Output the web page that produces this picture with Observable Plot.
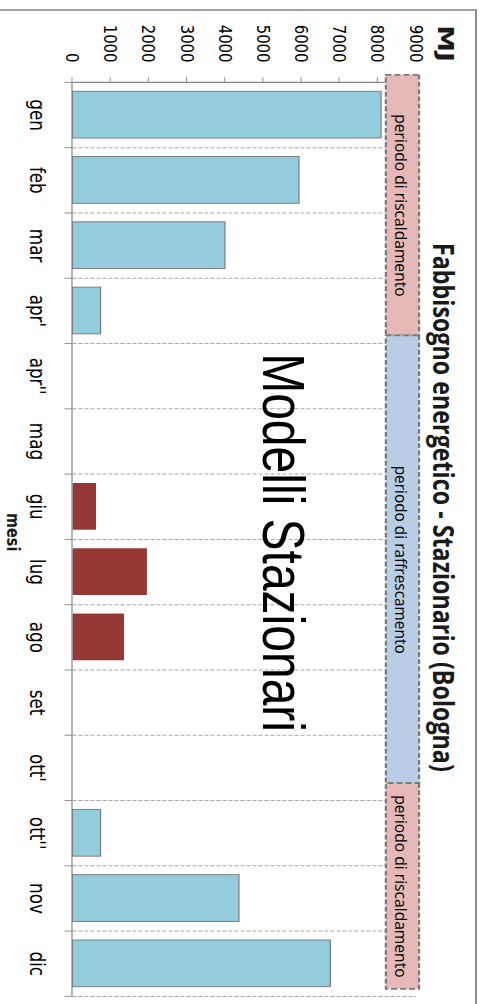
<!DOCTYPE html>
<html><head><meta charset="utf-8">
<script src="https://cdn.jsdelivr.net/npm/d3@7"></script>
<script src="https://cdn.jsdelivr.net/npm/@observablehq/plot@0.6"></script>
<style>
html,body{margin:0;padding:0;background:#fff;overflow:hidden;width:481px;height:1004px;}
#chart{position:absolute;left:0;top:0;width:481px;height:1004px;overflow:hidden;}
#chart svg{position:absolute;left:0;top:0;max-width:none !important;transform-origin:0 0;transform:translate(481px,0) rotate(90deg) scale(0.8,1);}
</style></head><body><div id="chart"></div>
<script>
const months = ["gen","feb","mar","apr'","apr''","mag","giu","lug","ago","set","ott'","ott''","nov","dic"];
const heating = [8085, 5935, 3995, 735, 0, 0, 0, 0, 0, 0, 0, 735, 4360, 6755];
const cooling = [0, 0, 0, 0, 0, 0, 615, 1950, 1350, 0, 0, 0, 0, 0];
const valueTicks = [0, 1000, 2000, 3000, 4000, 5000, 6000, 7000, 8000, 9000];
const periodLabels = ["periodo di riscaldamento", "periodo di raffrescamento", "periodo di riscaldamento"];
const periodStart = [-0.11, 3.88, 10.74];
const periodEnd = [3.88, 10.74, 13.89];
const periodColors = ["#e6b9b8", "#b9cde5", "#e6b9b8"];
const titleText = "Fabbisogno energetico - Stazionario (Bologna)";
const overlayText = "Modelli Stazionari";
const yUnit = "MJ";
const xName = "mesi";

const heatBars = months.map((m, i) => ({i, m, v: heating[i]})).filter(d => d.v > 0);
const coolBars = months.map((m, i) => ({i, m, v: cooling[i]})).filter(d => d.v > 0);
const periods = periodLabels.map((label, k) => ({label, x1: periodStart[k], x2: periodEnd[k], fill: periodColors[k]}));

const gray = "#868686";

const frameMark = () => {
  return d3.create("svg:rect")
    .attr("x", 12.5).attr("y", 5).attr("width", 4000).attr("height", 4000)
    .attr("fill", "none").attr("stroke", "#8a8a8a").attr("stroke-width", 2).node();
};

const svg = Plot.plot({
  width: 1255,
  height: 481,
  marginLeft: 102.5,
  marginRight: 10,
  marginTop: 65,
  marginBottom: 72.5,
  style: {fontFamily: "DejaVu Sans", fontSize: "18.5px", background: "white", color: "#000"},
  x: {type: "linear", domain: [0, months.length], label: null},
  y: {domain: [0, 9000], label: null},
  color: {type: "identity"},
  marks: [
    Plot.ruleX(d3.range(1, months.length + 1), {y1: 0, y2: 9000, stroke: "#a6a6a6", strokeWidth: 1.25, strokeDasharray: "4,2"}),
    Plot.rect(heatBars, {x1: d => d.i, x2: d => d.i + 1, y1: 0, y2: "v", insetLeft: 11.6, insetRight: 11.6, fill: "#93cddd", stroke: "#7a7a7a", strokeWidth: 1.2}),
    Plot.rect(coolBars, {x1: d => d.i, x2: d => d.i + 1, y1: 0, y2: "v", insetLeft: 11.6, insetRight: 11.6, fill: "#953735"}),
    Plot.ruleX([0], {y1: 0, y2: 9000, stroke: gray, strokeWidth: 1.6}),
    Plot.ruleY([0], {stroke: gray, strokeWidth: 1.2}),
    Plot.axisY({ticks: valueTicks, tickFormat: d => String(d), tickSize: 6, tickPadding: 19, stroke: gray, fontSize: 18.5, label: null}),
    Plot.axisX({ticks: d3.range(months.length + 1), tickFormat: () => "", tickSize: 8, stroke: gray, label: null}),
    Plot.axisX({ticks: d3.range(months.length).map(i => i + 0.5), tickFormat: d => months[Math.floor(d)], tickSize: 0, tickPadding: 27.4, fontSize: 21, label: null}),
    Plot.rect(periods, {x1: "x1", x2: "x2", y1: 8210, y2: 9080, fill: "fill", stroke: "#7a7a7a", strokeWidth: 2.2, strokeDasharray: "6,3"}),
    Plot.text(periods, {x: d => (d.x1 + d.x2) / 2, y: 8644, dy: 2, text: "label", fontSize: 16, fontFamily: "Open Sans", fill: "#000"}),
    Plot.text([overlayText], {x: 7, y: 5000, dx: 4, lineAnchor: "bottom", text: d => d, fontSize: 60, fontFamily: "Liberation Sans", fill: "#000"}),
    Plot.text([titleText], {frameAnchor: "top", dx: -40, dy: -17, lineAnchor: "bottom", text: d => d, fontSize: 29, fontWeight: "bold", fontFamily: "Open Sans", fill: "#1a1a1a"}),
    Plot.text([yUnit], {frameAnchor: "top-left", dx: -48.5, dy: -22, lineAnchor: "bottom", textAnchor: "middle", text: d => d, fontSize: 21, fontWeight: "bold", fill: "#1a1a1a"}),
    Plot.text([xName], {frameAnchor: "bottom", dx: -9, dy: 65, lineAnchor: "bottom", text: d => d, fontSize: 18, fontWeight: "bold", fill: "#1a1a1a"}),
    frameMark
  ]
});

const setLen = (content, len) => {
  d3.select(svg).selectAll("text").filter(function() { return this.textContent === content; })
    .attr("textLength", len).attr("lengthAdjust", "spacingAndGlyphs");
};
setLen(titleText, 661);
setLen("periodo di riscaldamento", 228);
setLen("periodo di raffrescamento", 235);
setLen(yUnit, 46);

document.getElementById("chart").appendChild(svg);
</script></body></html>
